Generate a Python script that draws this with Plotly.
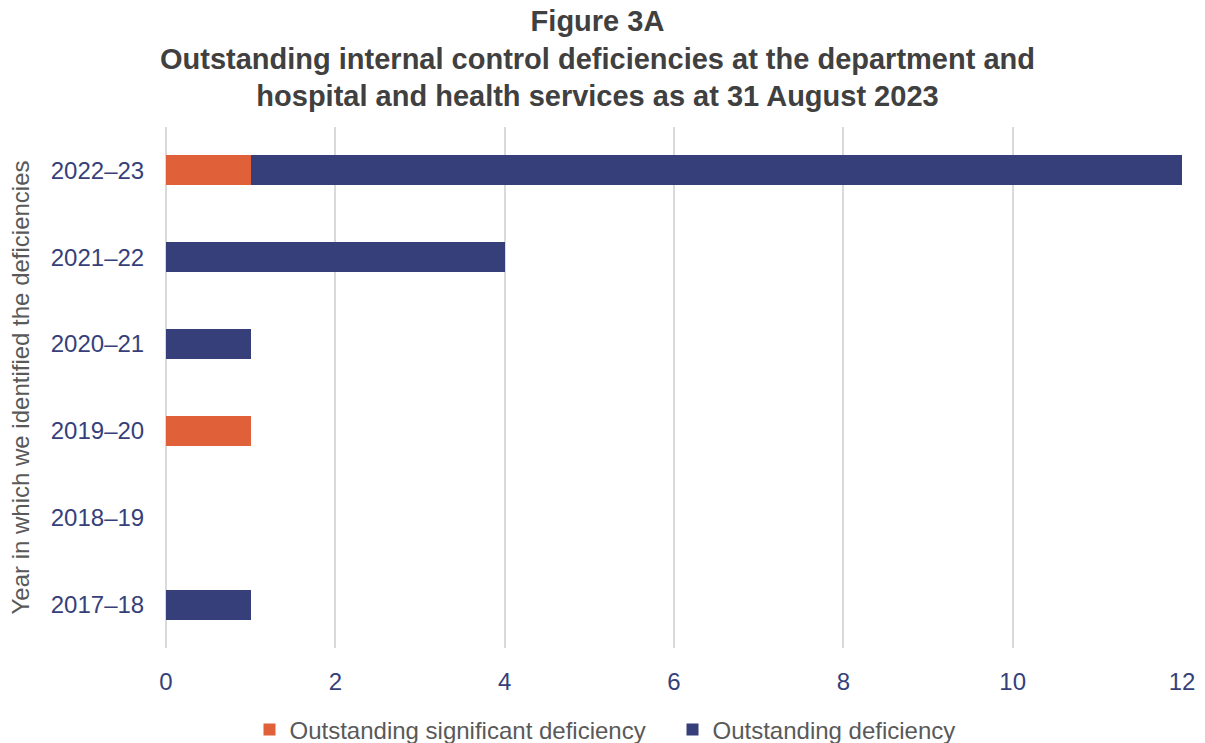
import plotly.graph_objects as go

categories = ["2017–18", "2018–19", "2019–20", "2020–21", "2021–22", "2022–23"]
significant = [0, 0, 1, 0, 0, 1]
deficiency = [1, 0, 0, 1, 4, 11]
x_ticks = [0, 2, 4, 6, 8, 10, 12]

ORANGE = "#E0603A"
NAVY = "#363F7A"
FONT = "Liberation Sans, Arial, sans-serif"

fig = go.Figure()
fig.add_trace(go.Bar(
    y=categories, x=significant, orientation="h",
    name="Outstanding significant deficiency",
    marker=dict(color=ORANGE, line=dict(width=0)),
))
fig.add_trace(go.Bar(
    y=categories, x=deficiency, orientation="h",
    name="Outstanding deficiency",
    marker=dict(color=NAVY, line=dict(width=0)),
))

fig.add_annotation(
    text="<b>Figure 3A</b><br><b>Outstanding internal control deficiencies at the department and</b><br><b>hospital and health services as at 31 August 2023</b>",
    xref="paper", yref="paper", x=0.4247, y=1.238, xanchor="center", yanchor="top",
    showarrow=False, align="center",
    font=dict(family=FONT, size=29, color="#404040"),
)

fig.update_layout(
    barmode="stack",
    bargap=0.655,
    width=1205, height=743,
    paper_bgcolor="white", plot_bgcolor="white",
    margin=dict(l=166, r=23, t=127, b=95, autoexpand=False),
    font=dict(family=FONT),
    xaxis=dict(
        range=[0, 12], tickvals=x_ticks, automargin=False,
        showgrid=True, gridcolor="#D9D9D9", gridwidth=2,
        zeroline=True, zerolinecolor="#D9D9D9", zerolinewidth=2,
        showline=False,
        ticks="outside", ticklen=12, tickcolor="rgba(0,0,0,0)",
        tickfont=dict(family=FONT, size=24, color=NAVY),
    ),
    yaxis=dict(
        categoryorder="array", categoryarray=categories, automargin=False,
        showgrid=False, zeroline=False, showline=False,
        ticks="outside", ticklen=16, tickcolor="rgba(0,0,0,0)",
        tickfont=dict(family=FONT, size=24, color=NAVY),
        title=dict(text="Year in which we identified the deficiencies",
                   font=dict(family=FONT, size=24, color="#595959"), standoff=14),
    ),
    legend=dict(
        orientation="h", xref="container", yref="container",
        x=249.5 / 1205, xanchor="left", y=1 - 730 / 743, yanchor="middle",
        font=dict(family=FONT, size=24, color="#595959"),
        traceorder="normal", itemwidth=30, entrywidth=378, entrywidthmode="pixels",
    ),
)

fig.write_html(
    "out.html",
    config={"displayModeBar": False},
    post_script="document.body.style.margin='0';document.body.style.overflow='hidden';",
)
